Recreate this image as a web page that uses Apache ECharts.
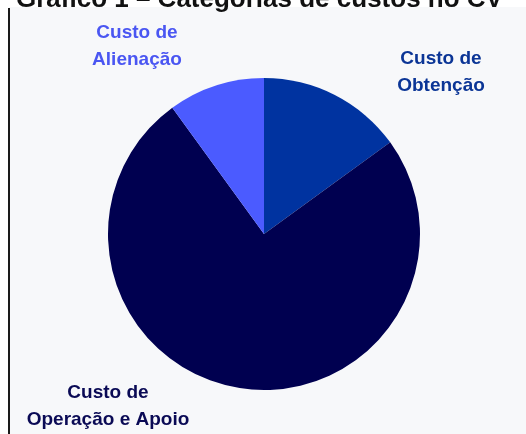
<!DOCTYPE html>
<html>
<head>
<meta charset="utf-8">
<script src="https://cdn.jsdelivr.net/npm/echarts@6/dist/echarts.min.js"></script>
<style>
html,body{margin:0;padding:0;background:#ffffff;}
#chart{width:526px;height:434px;}
</style>
</head>
<body>
<div id="chart"></div>
<script>
const titleText = "Gráfico 1 – Categorias de custos no CV";
const categories = ["Custo de\nObtenção", "Custo de\nOperação e Apoio", "Custo de\nAlienação"];
const values = [15, 75, 10];
const sliceColors = ["#0033a0", "#000050", "#4b5bff"];
const labelColors = ["#0b3596", "#0a0a55", "#4a56f2"];
const labelSpots = [[441, 72], [108, 406], [137, 46]];

const chart = echarts.init(document.getElementById('chart'));
chart.setOption({
  backgroundColor: '#ffffff',
  animation: false,
  title: {
    text: titleText,
    left: 11,
    top: -18,
    textStyle: {fontFamily: 'Liberation Sans, Arial, sans-serif', fontWeight: 'bold', fontSize: 26, color: '#111111'}
  },
  graphic: [
    {type: 'rect', z: -10, shape: {x: 9, y: 7, width: 517, height: 427}, style: {fill: '#f7f8fa'}},
    {type: 'rect', z: -5, shape: {x: 8, y: 8, width: 2, height: 426}, style: {fill: '#1a1a1a'}}
  ],
  series: [{
    type: 'pie',
    center: [264, 234],
    radius: 156,
    startAngle: 90,
    clockwise: true,
    silent: true,
    data: categories.map((c, i) => ({
      name: c, value: values[i],
      itemStyle: {color: sliceColors[i]},
      label: {color: labelColors[i]}
    })),
    label: {
      show: true,
      position: 'outside',
      formatter: '{b}',
      fontFamily: 'Liberation Sans, Arial, sans-serif',
      fontWeight: 'bold',
      fontSize: 19,
      lineHeight: 27,
      align: 'center'
    },
    labelLine: {show: false},
    labelLayout: function (p) {
      const s = labelSpots[p.dataIndex];
      return {x: s[0], y: s[1], align: 'center', verticalAlign: 'middle', hideOverlap: false};
    }
  }]
});
</script>
</body>
</html>
